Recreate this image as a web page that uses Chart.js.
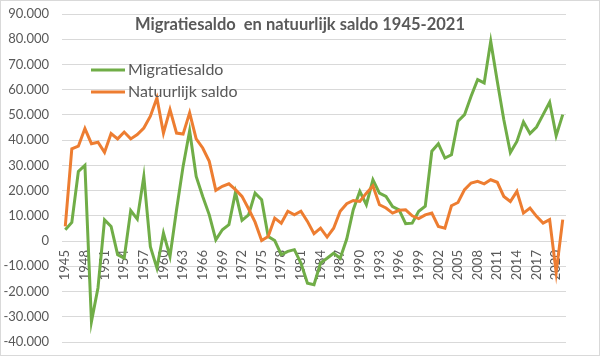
<!DOCTYPE html>
<html>
<head>
<meta charset="utf-8">
<script src="https://cdn.jsdelivr.net/npm/chart.js@4/dist/chart.umd.min.js"></script>
<style>
html,body{margin:0;padding:0;background:#fff;}
#wrap{width:600px;height:356px;position:relative;}
</style>
</head>
<body>
<div id="wrap"><canvas id="c" width="600" height="356"></canvas></div>
<script>
const titleText = 'Migratiesaldo  en natuurlijk saldo 1945-2021';
const years = ['1945','1946','1947','1948','1949','1950','1951','1952','1953','1954',
  '1955','1956','1957','1958','1959','1960','1961','1962','1963','1964',
  '1965','1966','1967','1968','1969','1970','1971','1972','1973','1974',
  '1975','1976','1977','1978','1979','1980','1981','1982','1983','1984',
  '1985','1986','1987','1988','1989','1990','1991','1992','1993','1994',
  '1995','1996','1997','1998','1999','2000','2001','2002','2003','2004',
  '2005','2006','2007','2008','2009','2010','2011','2012','2013','2014',
  '2015','2016','2017','2018','2019','2020','2021'];
const migratiesaldo = [4500,7400,27600,30000,-31900,-18500,8400,5800,-5400,-6800,
  12100,8700,25600,-2200,-10700,3200,-6100,12400,29600,43700,
  25600,17700,10400,500,4500,6500,19300,8200,10400,19000,
  16400,1800,200,-5400,-4100,-3400,-8700,-16700,-17300,-8700,
  -6800,-4800,-6800,800,12400,19700,14400,24300,19000,17700,
  13700,12400,6900,7100,11800,13800,35600,38600,32900,34200,
  47500,50100,57400,64000,62700,79200,63300,48100,35100,39500,
  47200,42600,45200,50100,55000,41800,50100];
const natuurlijkSaldo = [5800,36600,37600,44600,38600,39200,35200,42600,40500,43200,
  40500,42200,44800,49500,56700,42800,52100,42800,42400,50800,
  40500,36900,31600,20100,21700,22700,20400,17700,12800,7500,
  200,1800,9100,7100,11800,10400,11800,7800,2900,5100,
  1600,5100,11800,14800,16100,15700,19000,21900,14400,13100,
  11100,12200,12400,10000,8900,10400,11100,5800,5100,14000,
  15300,20400,23000,23700,22700,24300,23300,17700,15700,19700,
  11100,13100,9800,7100,8500,-12500,8500];
const yTicks = {min:-40000, max:90000, step:10000};

const FONT = 'Lato, "Liberation Sans", sans-serif';
const TEXT = '#595959';
const GRID = '#d9d9d9';

function fmt(v){
  const neg = v < 0; let s = String(Math.abs(Math.round(v)));
  s = s.replace(/\B(?=(\d{3})+(?!\d))/g, '.');
  return (neg ? '-' : '') + s;
}

const overlay = {
  id:'overlay',
  afterDraw(chart){
    const ctx = chart.ctx;
    ctx.save();
    ctx.strokeStyle = GRID; ctx.lineWidth = 1;
    ctx.strokeRect(0.5,0.5,chart.width-1,chart.height-1);
    ctx.fillStyle = TEXT;
    ctx.font = 'bold 16.5px ' + FONT;
    ctx.textAlign = 'center'; ctx.textBaseline = 'middle';
    ctx.fillText(titleText, 300, 25);
    ctx.font = '16px ' + FONT;
    ctx.textAlign = 'left';
    chart.data.datasets.forEach((ds,i)=>{
      const y = 70 + i*22;
      ctx.strokeStyle = ds.borderColor; ctx.lineWidth = 3;
      ctx.beginPath(); ctx.moveTo(91,y); ctx.lineTo(125,y); ctx.stroke();
      ctx.fillStyle = TEXT;
      ctx.fillText(ds.label, 128, y);
    });
    ctx.restore();
  }
};

new Chart(document.getElementById('c'), {
  type:'line',
  data:{
    labels: years,
    datasets:[
      {label:'Migratiesaldo', data: migratiesaldo, borderColor:'#70AD47', backgroundColor:'#70AD47', borderWidth:3, pointRadius:0, tension:0, order:1},
      {label:'Natuurlijk saldo', data: natuurlijkSaldo, borderColor:'#ED7D31', backgroundColor:'#ED7D31', borderWidth:3, pointRadius:0, tension:0, order:0}
    ]
  },
  options:{
    responsive:false, animation:false,
    layout:{padding:{left:0,right:34,top:14,bottom:14}},
    plugins:{legend:{display:false}, title:{display:false}, tooltip:{enabled:false}},
    scales:{
      x:{
        type:'category', position:{y:0}, offset:true,
        grid:{display:false, drawTicks:false},
        border:{display:true, color:GRID, width:1},
        ticks:{autoSkip:false, maxRotation:90, minRotation:90, padding:9, color:TEXT,
          font:{family:FONT, size:13},
          callback:function(v,i){ return i%3===0 ? this.getLabelForValue(v) : null; }},
        afterFit:(s)=>{ s.paddingLeft = 0; s.paddingRight = 0; }
      },
      y:{
        min:yTicks.min, max:yTicks.max,
        grid:{color:GRID, drawTicks:false},
        border:{display:false},
        ticks:{stepSize:yTicks.step, padding:13, color:TEXT, font:{family:FONT, size:13},
          callback:(v)=>fmt(v)},
        afterFit:(s)=>{ s.width = 62; s.paddingTop = 0; s.paddingBottom = 0; }
      }
    }
  },
  plugins:[overlay]
});
</script>
</body>
</html>
